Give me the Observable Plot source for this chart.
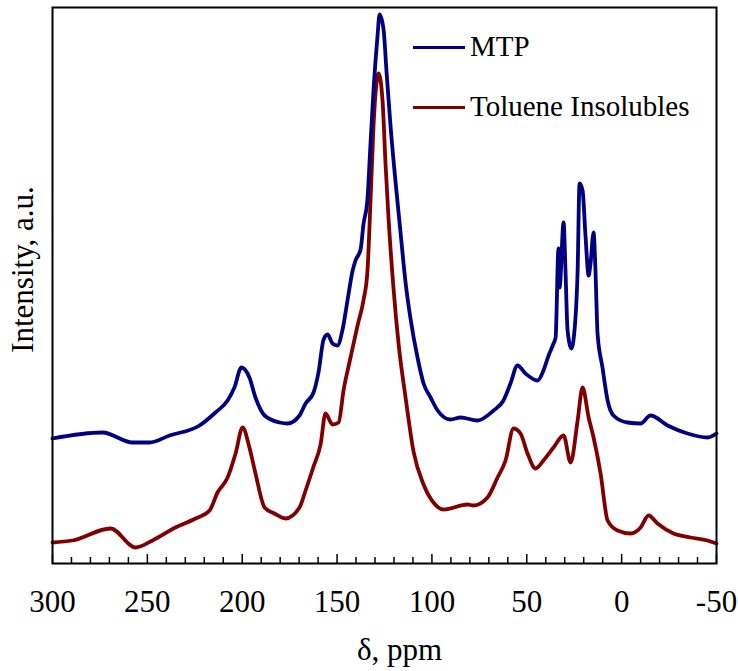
<!DOCTYPE html>
<html><head><meta charset="utf-8">
<script src="https://cdn.jsdelivr.net/npm/d3@7"></script>
<script src="https://cdn.jsdelivr.net/npm/@observablehq/plot@0.6"></script>
<style>
body{margin:0;background:#fff;}
#wrap{position:relative;width:738px;height:671px;font-family:"Liberation Serif","Times New Roman",serif;}
#wrap svg, #wrap svg text{font-family:"Liberation Serif","Times New Roman",serif !important;}
.lg-line{position:absolute;left:413px;width:52px;height:3px;}
.lg-text{position:absolute;left:470px;font-size:29px;line-height:29px;color:#000;white-space:nowrap;}
</style></head><body><div id="wrap"></div>
<script>
const seriesNames = ["MTP", "Toluene Insolubles"];
const seriesColors = ["#000080", "#800000"];
const xTitle = "δ, ppm";
const yTitle = "Intensity, a.u.";

const mtpPpm = [300, 273.6, 257.8, 248.9, 238.3, 222.5, 214.1, 207.7, 204.1, 200.4, 196.2, 193.0, 188.2, 180.3, 176.1, 169.8, 166.6, 162.4, 159.8, 157.1, 155.0, 152.4, 149.8, 147.1, 144.5, 141.9, 140.3, 137.6, 136.1, 134.0, 132.4, 130.8, 128.7, 127.6, 125.5, 123.9, 121.8, 119.2, 116.6, 113.9, 111.3, 107.6, 104.4, 100.7, 97.0, 90.2, 84.9, 76.0, 67.5, 62.3, 58.6, 54.9, 50.7, 44.3, 41.2, 38.5, 35.9, 34.8, 33.3, 32.7, 30.6, 29.6, 28.5, 26.4, 25.4, 23.2, 22.2, 20.6, 19.0, 17.4, 16.4, 14.8, 13.8, 12.7, 10.1, 7.4, 4.3, -3.1, -10.0, -15.2, -24.2, -34.7, -45.3, -50];
const mtpVal = [127, 133, 123, 123, 130, 140, 153, 165, 178, 198, 188, 168, 150, 143, 142, 150, 162, 173, 193, 226, 231, 222, 220, 236, 265, 294, 305, 316, 341, 366, 421, 475, 529, 551, 536, 493, 439, 384, 334, 283, 247, 208, 182, 168, 155, 146, 148, 145, 155, 165, 182, 200, 192, 185, 195, 210, 222, 228, 317, 278, 343, 295, 235, 217, 225, 295, 382, 375, 328, 290, 302, 333, 295, 232, 198, 165, 150, 143, 142, 150, 140, 132, 128, 132];

const tiPpm = [300, 289.5, 269.4, 256.2, 247.3, 235.2, 224.6, 217.2, 213.0, 207.7, 203.5, 199.8, 196.2, 193.0, 188.2, 183.0, 177.2, 169.8, 166.6, 162.4, 158.7, 156.1, 152.4, 149.2, 146.6, 142.9, 139.2, 136.1, 134.0, 132.4, 130.8, 128.7, 128.1, 126.0, 124.5, 122.9, 120.2, 117.6, 113.9, 109.7, 104.4, 99.2, 93.9, 81.2, 78.1, 70.7, 65.4, 61.2, 57.0, 53.3, 49.6, 45.4, 41.2, 35.9, 30.6, 26.9, 23.2, 20.6, 17.4, 14.8, 11.1, 7.4, 2.2, -4.7, -10.0, -14.2, -18.9, -27.4, -36.3, -45.3, -50];
const tiVal = [23, 25, 37, 18, 25, 38, 47, 55, 73, 88, 112, 138, 118, 92, 58, 52, 47, 58, 75, 99, 121, 152, 141, 143, 175, 208, 240, 265, 294, 363, 439, 489, 492, 464, 403, 348, 276, 222, 168, 114, 81, 63, 56, 61, 60, 68, 88, 105, 137, 132, 112, 97, 105, 118, 130, 103, 145, 178, 148, 128, 92, 45, 35, 32, 38, 50, 42, 32, 28, 25, 22];

const majorTicks = [300, 250, 200, 150, 100, 50, 0, -50];
const minorTicks = [290, 280, 270, 260, 240, 230, 220, 210, 190, 180, 170, 160, 140, 130, 120, 110, 90, 80, 70, 60, 40, 30, 20, 10, -10, -20, -30, -40];
const xDomain = [300, -50];
const yDomain = [2, 558];

const FONT = '"Liberation Serif", "Times New Roman", serif';
const mtp = mtpPpm.map((p, i) => ({ppm: p, val: mtpVal[i]}));
const ti = tiPpm.map((p, i) => ({ppm: p, val: tiVal[i]}));

const chart = Plot.plot({
  width: 738, height: 671,
  marginLeft: 52, marginRight: 22, marginTop: 7, marginBottom: 108,
  style: {fontFamily: FONT, fontSize: "31px", color: "black", background: "white", overflow: "visible"},
  x: {domain: xDomain, label: null},
  y: {domain: yDomain, label: null},
  marks: [
    Plot.line(ti, {x: "ppm", y: "val", stroke: seriesColors[1], strokeWidth: 3.8, curve: "monotone-x"}),
    Plot.line(mtp, {x: "ppm", y: "val", stroke: seriesColors[0], strokeWidth: 3.8, curve: "monotone-x"}),
    Plot.axisX({ticks: minorTicks, tickSize: -6, tickFormat: () => "", strokeWidth: 1.5, label: null}),
    Plot.axisX({ticks: majorTicks, tickSize: -9, tickFormat: () => "", strokeWidth: 1.5, label: null}),
    Plot.axisX({ticks: majorTicks, tickSize: 0, tickPadding: 26, tickFormat: d => String(d), fontSize: 31, fontFamily: FONT, label: null}),
    Plot.axisY({ticks: [], tickSize: 0, label: null}),
    Plot.text([xTitle], {text: d => d, frameAnchor: "bottom", textAnchor: "middle", lineAnchor: "middle", dx: 15, dy: 87, fontSize: 31, fontFamily: FONT, fill: "black"}),
    Plot.text([yTitle], {text: d => d, frameAnchor: "left", textAnchor: "middle", lineAnchor: "middle", rotate: -90, dx: -29.5, dy: -16, fontSize: 31, fontFamily: FONT, fill: "black"}),
    Plot.frame({stroke: "black", strokeWidth: 2})
  ]
});
const wrap = document.getElementById("wrap");
wrap.appendChild(chart);

const lgLineTops = [45.5, 105.5];
const lgTextTops = [32.3, 92.3];
seriesNames.forEach((name, i) => {
  const ln = document.createElement("div");
  ln.className = "lg-line";
  ln.style.top = lgLineTops[i] + "px";
  ln.style.background = seriesColors[i];
  wrap.appendChild(ln);
  const tx = document.createElement("div");
  tx.className = "lg-text";
  tx.style.top = lgTextTops[i] + "px";
  tx.textContent = name;
  wrap.appendChild(tx);
});
</script></body></html>
